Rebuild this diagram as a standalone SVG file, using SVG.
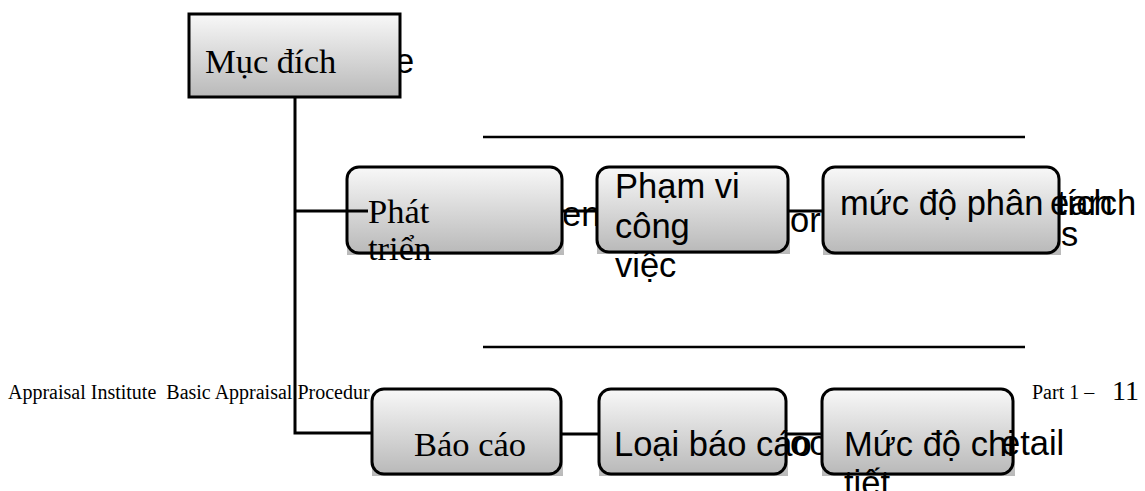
<svg xmlns="http://www.w3.org/2000/svg" width="1145" height="491" viewBox="0 0 1145 491">
  <defs>
    <linearGradient id="boxFill" x1="0" y1="0" x2="0" y2="1">
      <stop offset="0" stop-color="#f8f8f8"/>
      <stop offset="1" stop-color="#b9b9b9"/>
    </linearGradient>
    <style>
      .box { fill: url(#boxFill); stroke: #000; stroke-width: 3; }
      .under { fill: url(#boxFill); stroke: none; }
      .serif { font-family: "Liberation Serif", "Times New Roman", serif; fill: #000; }
      .sans { font-family: "Liberation Sans", Arial, sans-serif; fill: #000; }
      .big { font-size: 34.5px; }
      .lbl { font-size: 34.5px; }
      .foot { font-size: 20px; }
      .rule { stroke: #000; stroke-width: 2.5; fill: none; }
      .wire { stroke: #000; stroke-width: 3; fill: none; }
    </style>
  </defs>

  <!-- page footer -->
  <g id="footer">
    <text class="serif foot" x="8" y="399" xml:space="preserve">Appraisal Institute  Basic Appraisal Procedur</text>
    <text class="serif foot" x="1032" y="399">Part 1 –</text>
    <text class="serif" font-size="28" x="1112" y="400">11</text>
  </g>

  <!-- horizontal rules -->
  <g id="rules">
    <line class="rule" x1="483" y1="137" x2="1025" y2="137"/>
    <line class="rule" x1="483" y1="347" x2="1025" y2="347"/>
  </g>

  <!-- leftover text fragments partly covered by the boxes -->
  <g id="fragments-back">
    <text class="sans lbl" x="395" y="73">e</text>
    <text class="sans lbl" x="562" y="226">en</text>
    <text class="sans lbl" x="790" y="232">or</text>
    <text class="sans lbl" x="790" y="455">oo</text>
  </g>

  <g id="purpose">
    <rect class="box" x="189" y="14" width="211" height="83"/>
    <text class="serif big" x="205" y="73">Mục đích</text>
  </g>

  <g id="develop">
    <rect class="under" x="347" y="188" width="217" height="67"/>
    <rect class="box" x="347" y="167" width="215" height="86" rx="12"/>
    <text class="serif big" x="368" y="223">Phát</text>
    <text class="serif big" x="368" y="260">triển</text>
  </g>

  <g id="scope">
    <rect class="under" x="597" y="188" width="193" height="66"/>
    <rect class="box" x="597" y="167" width="191" height="85" rx="12"/>
    <text class="sans lbl" x="615" y="198">Phạm vi</text>
    <text class="sans lbl" x="615" y="238">công</text>
    <text class="sans lbl" x="615" y="277">việc</text>
  </g>

  <g id="analysis">
    <rect class="under" x="823" y="188" width="238" height="67"/>
    <rect class="box" x="823" y="167" width="236" height="86" rx="12"/>
    <text class="sans lbl" x="840" y="215">mức độ phân</text>
    <text class="sans lbl" x="1057" y="215">tích</text>
    <text class="sans lbl" x="1050" y="215">earch</text>
    <text class="sans lbl" x="1061" y="246">s</text>
  </g>

  <g id="report">
    <rect class="under" x="372" y="410" width="191" height="66"/>
    <rect class="box" x="372" y="389" width="189" height="85" rx="12"/>
    <text class="serif big" x="414" y="456">Báo cáo</text>
  </g>

  <g id="report-type">
    <rect class="under" x="599" y="410" width="189" height="66"/>
    <rect class="box" x="599" y="389" width="187" height="85" rx="12"/>
    <text class="sans lbl" x="614" y="456">Loại báo cáo</text>
  </g>

  <g id="detail">
    <rect class="under" x="822" y="410" width="193" height="66"/>
    <rect class="box" x="822" y="389" width="191" height="85" rx="12"/>
    <text class="sans lbl" x="844" y="456">Mức độ chi</text>
    <text class="sans lbl" x="844" y="495">tiết</text>
    <text class="sans lbl" x="1001" y="455">etail</text>
  </g>

  <!-- connectors -->
  <g id="connectors">
    <path class="wire" d="M295,97 V433 H372"/>
    <path class="wire" d="M295,211 H368"/>
    <path class="wire" d="M562,211 H597"/>
    <path class="wire" d="M788,211 H823"/>
    <path class="wire" d="M561,434 H599"/>
    <path class="wire" d="M786,434 H822"/>
  </g>
</svg>
